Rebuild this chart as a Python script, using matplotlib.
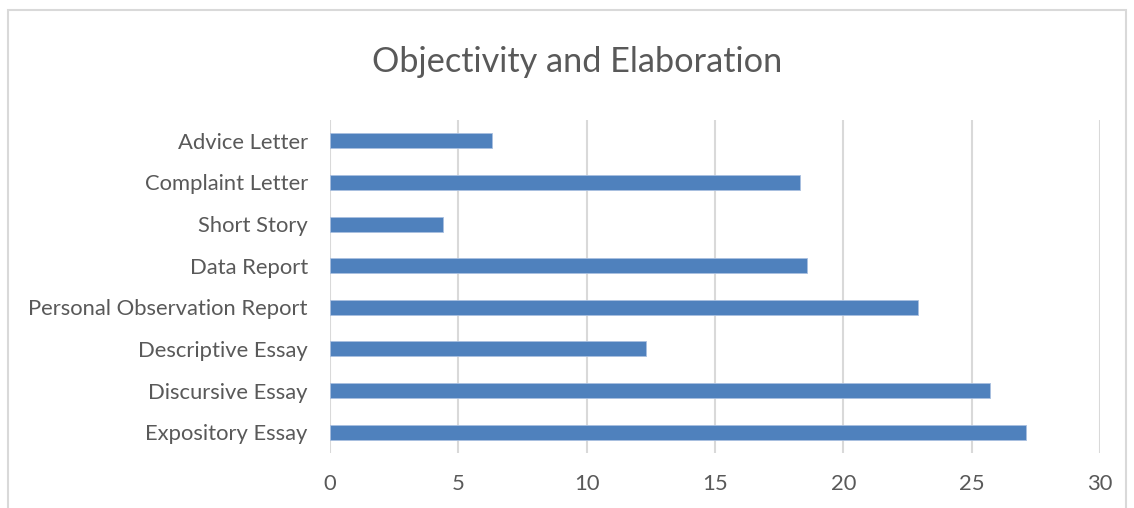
import matplotlib.pyplot as plt
from matplotlib.patches import Rectangle

plt.rcParams["font.family"] = ["Lato", "DejaVu Sans"]

# genres, listed top to bottom
categories = ["Advice Letter", "Complaint Letter", "Short Story", "Data Report",
              "Personal Observation Report", "Descriptive Essay",
              "Discursive Essay", "Expository Essay"]
scores = [6.3, 18.3, 4.4, 18.6, 22.9, 12.3, 25.7, 27.1]
xticks = [0, 5, 10, 15, 20, 25, 30]

TEXT = "#595959"
GRID = "#d9d9d9"
BAR = "#4f81bd"

fig = plt.figure(figsize=(11.34, 5.08), dpi=100)
ax = fig.add_axes([0.291, 0.108, 0.679, 0.656])

ypos = list(range(len(categories)))[::-1]
ax.barh(ypos, scores, height=0.36, color=BAR, edgecolor="#a9c0e0",
        linewidth=0.6, zorder=3)

ax.set_xlim(0, 30)
ax.set_ylim(-0.5, len(categories) - 0.5)
ax.set_xticks(xticks)
ax.set_xticklabels([str(t) for t in xticks])
ax.set_yticks(ypos)
ax.set_yticklabels(categories)
ax.xaxis.grid(True, color=GRID, linewidth=1.5, zorder=0)
ax.tick_params(axis="both", length=0, labelsize=15.8, labelcolor=TEXT)
ax.tick_params(axis="y", pad=16)
ax.tick_params(axis="x", pad=15)
for s in ax.spines.values():
    s.set_visible(False)

fig.text(0.509, 0.878, "Objectivity and Elaboration", ha="center", va="center",
         fontsize=24.7, color=TEXT)

# chart-area frame
fig.patches.append(Rectangle((8 / 1134, -0.02), 1118 / 1134, 1 - 10 / 508 + 0.02,
                             transform=fig.transFigure, fill=False,
                             edgecolor=GRID, linewidth=1.5))

fig.savefig("out.png", dpi=100, facecolor="white")
